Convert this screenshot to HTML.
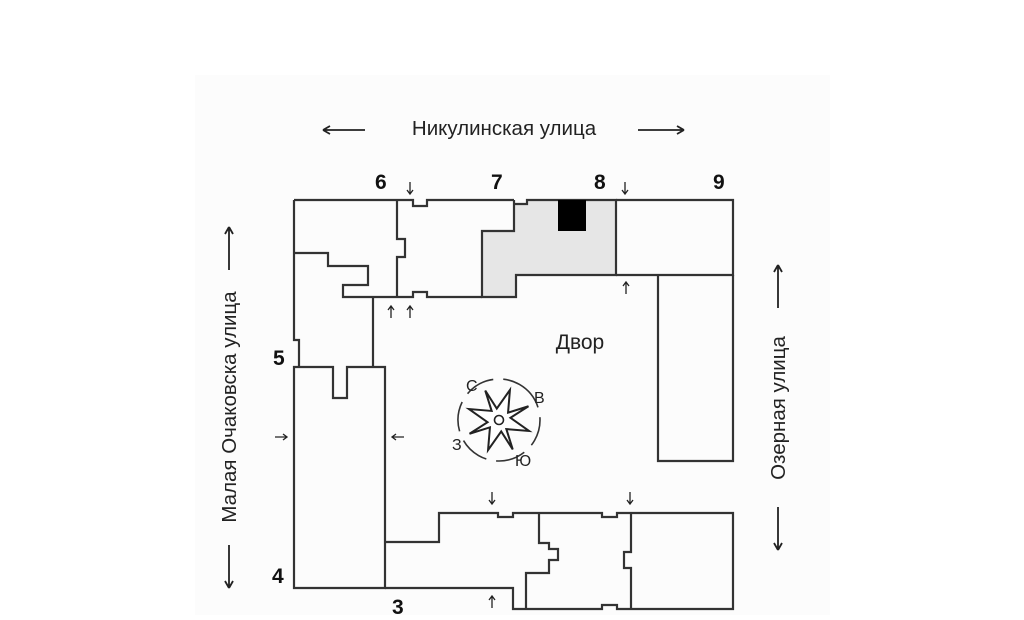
<!DOCTYPE html>
<html><head><meta charset="utf-8"><style>
body{margin:0;background:#fff;width:1024px;height:615px;overflow:hidden}
</style></head><body>
<svg width="1024" height="615" xmlns="http://www.w3.org/2000/svg" font-family="Liberation Sans, DejaVu Sans, sans-serif">
<rect x="195" y="75" width="635" height="540" fill="#fcfcfc"/>
<g fill="none" stroke="#333" stroke-width="2.2">
<path d="M514,200 V204 H527 V200 H616 V275 H516 V297 H482 V231 H514 Z" fill="#e6e6e6"/>
<rect x="558" y="200" width="28" height="31" fill="#000" stroke="none"/>
<path d="M294,200 H413 V206 H427 V200 H514"/>
<path d="M616,200 H733 V275 H616"/>
<path d="M658,275 V461 H733 V275"/>
<path d="M397,200 V239 H405 V257 H397 V297"/>
<path d="M294,200 V340 H299 V367"/>
<path d="M294,253 H328 V266 H368 V285 H343 V297 H413 V292 H427 V297 H482"/>
<path d="M373,297 V367"/>
<path d="M294,367 H333 V398 H347 V367 H385 V588 H294 Z"/>
<path d="M385,542 H439 V513 H498 V517 H513 V513 H602 V517 H617 V513 H733 V609 H617 V605 H602 V609 H513 V588 H385"/>
<path d="M539,513 V543 H549 V549 H558 V560 H549 V573 H526 V609"/>
<path d="M631,513 V552 H624 V568 H631 V609"/>
</g>
<g transform="translate(499,420)">
<circle r="41" fill="none" stroke="#333" stroke-width="1.6" stroke-dasharray="30 10" transform="rotate(-60)"/>
<polygon points="0,-32 6,-10 23,-23 10,-6 32,0 10,6 23,23 6,10 0,32 -6,10 -23,23 -10,6 -32,0 -10,-6 -23,-23 -6,-10" fill="#fff" stroke="#222" stroke-width="2" transform="rotate(20)"/>
<circle r="4.5" fill="#fff" stroke="#222" stroke-width="1.6"/>
</g>
<g font-size="16" fill="#222">
<text x="466" y="391">С</text><text x="534" y="403">В</text>
<text x="452" y="450">З</text><text x="515" y="466">Ю</text>
</g>
<text x="580" y="349" font-size="21" fill="#222" text-anchor="middle">Двор</text>
<text x="504" y="135" font-size="20.5" fill="#222" text-anchor="middle">Никулинская улица</text>
<g stroke="#222" stroke-width="1.8" fill="none">
<path d="M323,130 H365 M323,130 l7,-4 M323,130 l7,4"/>
<path d="M638,130 H684 M684,130 l-7,-4 M684,130 l-7,4"/>
<path d="M229,227 V270 M229,227 l-4,7 M229,227 l4,7"/>
<path d="M229,545 V588 M229,588 l-4,-7 M229,588 l4,-7"/>
<path d="M778,265 V308 M778,265 l-4,7 M778,265 l4,7"/>
<path d="M778,507 V550 M778,550 l-4,-7 M778,550 l4,-7"/>
</g>
<g stroke="#222" stroke-width="1.3" fill="none">
<path d="M410,182 V194 M407,190 l3,4 3,-4"/>
<path d="M625,182 V194 M622,190 l3,4 3,-4"/>
<path d="M391,306 V318 M388,310 l3,-4 3,4"/>
<path d="M410,306 V318 M407,310 l3,-4 3,4"/>
<path d="M626,282 V294 M623,286 l3,-4 3,4"/>
<path d="M492,492 V504 M489,500 l3,4 3,-4"/>
<path d="M630,492 V504 M627,500 l3,4 3,-4"/>
<path d="M492,596 V608 M489,600 l3,-4 3,4"/>
<path d="M275,437 H287 M283,434 l4,3 -4,3"/>
<path d="M392,437 H404 M396,434 l-4,3 4,3"/>
</g>
<text transform="translate(236,407) rotate(-90)" font-size="20.5" fill="#222" text-anchor="middle">Малая Очаковска улица</text>
<text transform="translate(785,408) rotate(-90)" font-size="20.5" fill="#222" text-anchor="middle">Озерная улица</text>
<g font-size="21" font-weight="bold" fill="#111">
<text x="375" y="189">6</text><text x="491" y="189">7</text><text x="594" y="189">8</text><text x="713" y="189">9</text>
<text x="273" y="365">5</text><text x="272" y="583">4</text><text x="392" y="614">3</text>
</g>
</svg>
</body></html>
